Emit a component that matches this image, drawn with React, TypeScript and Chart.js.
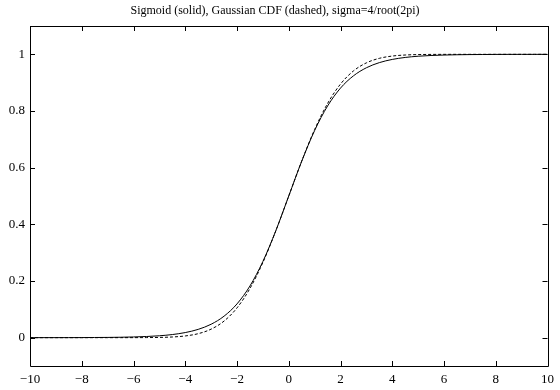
import React, { useEffect, useRef } from "react";
import { Chart, registerables } from "chart.js";

Chart.register(...registerables);

const TITLE = "Sigmoid (solid), Gaussian CDF (dashed), sigma=4/root(2pi)";

const xValues = [
  -10, -9.5, -9, -8.5, -8, -7.5, -7, -6.5, -6, -5.5, -5, -4.5, -4, -3.5, -3, -2.5, -2, -1.5, -1, -0.5,
  0, 0.5, 1, 1.5, 2, 2.5, 3, 3.5, 4, 4.5, 5, 5.5, 6, 6.5, 7, 7.5, 8, 8.5, 9, 9.5, 10,
];

const sigmoidValues = [
  0.0000, 0.0001, 0.0001, 0.0002, 0.0003, 0.0006, 0.0009, 0.0015, 0.0025, 0.0041, 0.0067, 0.0110, 0.0180,
  0.0293, 0.0474, 0.0759, 0.1192, 0.1824, 0.2689, 0.3775,
  0.5, 0.6225, 0.7311, 0.8176, 0.8808, 0.9241, 0.9526, 0.9707, 0.9820, 0.9890, 0.9933, 0.9959, 0.9975,
  0.9985, 0.9991, 0.9994, 0.9997, 0.9998, 0.9999, 0.9999, 1.0,
];

const gaussianCdfValues = [
  0.0, 0.0, 0.0, 0.0, 0.0, 0.0, 0.0, 0.00002, 0.00008, 0.00028, 0.00087, 0.0024, 0.0061, 0.0141, 0.0301,
  0.0586, 0.1050, 0.1736, 0.2654, 0.3770,
  0.5, 0.6230, 0.7346, 0.8264, 0.8950, 0.9414, 0.9699, 0.9859, 0.9939, 0.9976, 0.99913, 0.99972, 0.99992,
  0.99998, 1.0, 1.0, 1.0, 1.0, 1.0, 1.0, 1.0,
];

const xTicks = [-10, -8, -6, -4, -2, 0, 2, 4, 6, 8, 10];
const yTicks = [0, 0.2, 0.4, 0.6, 0.8, 1];

const FONT = "'Liberation Serif', 'Times New Roman', serif";

const framePlugin = {
  id: "frameTicks",
  afterDatasetsDraw(chart: any) {
    const { ctx, chartArea, scales } = chart;
    const { left, right, top, bottom } = chartArea;
    const len = 5;
    ctx.save();
    ctx.strokeStyle = "#000";
    ctx.lineWidth = 1;
    ctx.beginPath();
    ctx.rect(Math.round(left) + 0.5, Math.round(top) + 0.5, Math.round(right - left), Math.round(bottom - top));
    ctx.stroke();
    ctx.beginPath();
    for (const t of scales.x.ticks) {
      const px = Math.round(scales.x.getPixelForValue(t.value)) + 0.5;
      ctx.moveTo(px, bottom);
      ctx.lineTo(px, bottom - len);
      ctx.moveTo(px, top);
      ctx.lineTo(px, top + len);
    }
    for (const t of scales.y.ticks) {
      const py = Math.round(scales.y.getPixelForValue(t.value)) + 0.5;
      ctx.moveTo(left, py);
      ctx.lineTo(left + len, py);
      ctx.moveTo(right, py);
      ctx.lineTo(right - len, py);
    }
    ctx.stroke();
    ctx.restore();
  },
};

export default function App() {
  const canvasRef = useRef<HTMLCanvasElement | null>(null);

  useEffect(() => {
    document.body.style.margin = "0";
    const canvas = canvasRef.current;
    if (!canvas) return;
    const chart = new Chart(canvas, {
      type: "line",
      data: {
        datasets: [
          {
            label: "Sigmoid",
            data: xValues.map((x, i) => ({ x, y: sigmoidValues[i] })),
            borderColor: "#000",
            borderWidth: 1,
            pointRadius: 0,
            fill: false,
            cubicInterpolationMode: "monotone",
          },
          {
            label: "Gaussian CDF",
            data: xValues.map((x, i) => ({ x, y: gaussianCdfValues[i] })),
            borderColor: "#000",
            borderWidth: 1,
            borderDash: [3, 2],
            pointRadius: 0,
            fill: false,
            cubicInterpolationMode: "monotone",
          },
        ],
      },
      options: {
        animation: false,
        responsive: false,
        maintainAspectRatio: false,
        layout: { padding: { left: 0, right: 10, top: 0, bottom: 0 } },
        plugins: {
          legend: { display: false },
          tooltip: { enabled: false },
          title: {
            display: true,
            text: TITLE,
            color: "#000",
            font: { family: FONT, size: 12, weight: "normal", lineHeight: 1.2 },
            padding: { top: 4, bottom: 7.6 },
          },
        },
        scales: {
          x: {
            type: "linear",
            min: -10,
            max: 10,
            afterBuildTicks: (scale: any) => {
              scale.ticks = xTicks.map((v) => ({ value: v }));
            },
            afterFit: (scale: any) => {
              scale.height = 24;
            },
            grid: { display: false, drawTicks: false },
            border: { display: false },
            ticks: {
              color: "#000",
              padding: 6,
              maxRotation: 0,
              autoSkip: false,
              font: { family: FONT, size: 13 },
              callback: (v: any) => (v < 0 ? "\u2212" + Math.abs(v) : String(v)),
            },
          },
          y: {
            type: "linear",
            min: -0.1,
            max: 1.1,
            afterBuildTicks: (scale: any) => {
              scale.ticks = yTicks.map((v) => ({ value: v }));
            },
            afterFit: (scale: any) => {
              scale.width = 30;
            },
            grid: { display: false, drawTicks: false },
            border: { display: false },
            ticks: {
              color: "#000",
              padding: 5,
              autoSkip: false,
              font: { family: FONT, size: 13 },
              callback: (v: any) => String(Math.round(v * 10) / 10),
            },
          },
        },
      },
      plugins: [framePlugin],
    });
    return () => chart.destroy();
  }, []);

  return (
    <div style={{ width: 560, height: 390, background: "#fff" }}>
      <canvas ref={canvasRef} width={560} height={390} style={{ display: "block" }} />
    </div>
  );
}
